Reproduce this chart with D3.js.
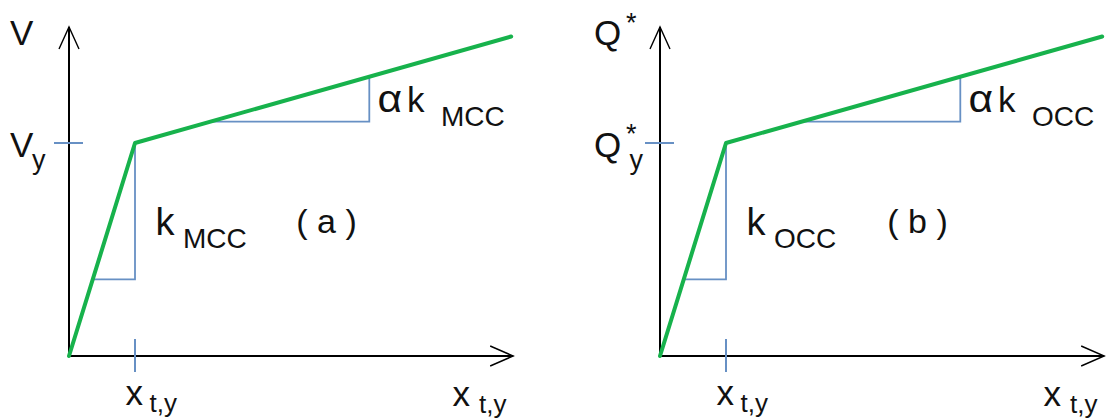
<!DOCTYPE html>
<html>
<head>
<meta charset="utf-8">
<script src="https://cdn.jsdelivr.net/npm/d3@7/dist/d3.min.js"></script>
<style>
  html, body { margin: 0; padding: 0; background: #fff; }
  svg { display: block; }
  text { font-family: "Liberation Sans", Arial, sans-serif; fill: #111; }
</style>
</head>
<body>
<svg id="chart" width="1107" height="419"></svg>
<script>
// Bilinear force–displacement models: (a) MCC, (b) OCC
const panelTags = ["a", "b"];
const forceSymbols = ["V", "Q"];
const forceMarks = ["", "*"];
const stiffnessSubs = ["MCC", "OCC"];
const dispSub = "t,y";
const ratioSymbol = "α";

// Backbone curve (displacement in units of x_t,y, force in units of the yield force)
const curveX = [0, 1, 6.7];
const curveY = [0, 1, 1.5];

// Yield tick positions
const xTickValues = [1];
const yTickValues = [1];

// Slope triangles: initial stiffness and post-yield stiffness
const initialTriX = [0.36, 1, 1];
const initialTriY = [0.36, 0.36, 1];
const hardeningTriX = [2.18, 4.55, 4.55];
const hardeningTriY = [1.10, 1.10, 1.31];

// Axis extents
const xAxisMax = 6.73;
const yAxisMax = 1.545;

const panelOffset = 591;
const green = "#17B24C";
const blue = "#6790C4";

const svg = d3.select("#chart");

const x = d3.scaleLinear().domain([0, 1]).range([69, 135]);
const y = d3.scaleLinear().domain([0, 1]).range([356, 143]);

const line = d3.line()
  .x(d => x(d[0]))
  .y(d => y(d[1]));

function zip(a, b) { return a.map((v, i) => [v, b[i]]); }

function label(g, parts) {
  const t = g.append("text");
  parts.forEach(p => {
    t.append("tspan")
      .attr("x", p.x)
      .attr("y", p.y)
      .attr("font-size", p.size)
      .text(p.text);
  });
  return t;
}

panelTags.forEach((tag, i) => {
  const g = svg.append("g").attr("transform", `translate(${i * panelOffset},0)`);

  // axes with open arrowheads
  const x0 = x(0), y0 = y(0), xEnd = x(xAxisMax), yEnd = y(yAxisMax);
  g.append("line")
    .attr("x1", x0).attr("y1", y0).attr("x2", xEnd).attr("y2", y0)
    .attr("stroke", "#000").attr("stroke-width", 2);
  g.append("line")
    .attr("x1", x0).attr("y1", y0).attr("x2", x0).attr("y2", yEnd)
    .attr("stroke", "#000").attr("stroke-width", 2);
  g.append("path")
    .attr("d", `M${xEnd - 23},${y0 - 10}L${xEnd},${y0}L${xEnd - 23},${y0 + 10}`)
    .attr("fill", "none").attr("stroke", "#000").attr("stroke-width", 1.4);
  g.append("path")
    .attr("d", `M${x0 - 10},${yEnd + 22}L${x0},${yEnd}L${x0 + 10},${yEnd + 22}`)
    .attr("fill", "none").attr("stroke", "#000").attr("stroke-width", 1.4);

  // yield ticks
  g.selectAll(".ytick").data(yTickValues).join("line")
    .attr("x1", x0 - 15).attr("x2", x0 + 14)
    .attr("y1", d => y(d)).attr("y2", d => y(d))
    .attr("stroke", blue).attr("stroke-width", 2);
  g.selectAll(".xtick").data(xTickValues).join("line")
    .attr("x1", d => x(d)).attr("x2", d => x(d))
    .attr("y1", y0 - 17).attr("y2", y0 + 16)
    .attr("stroke", blue).attr("stroke-width", 2);

  // slope triangles
  [[initialTriX, initialTriY], [hardeningTriX, hardeningTriY]].forEach(([tx, ty]) => {
    g.append("path")
      .attr("d", line(zip(tx, ty)))
      .attr("fill", "none").attr("stroke", blue).attr("stroke-width", 1.8);
  });

  // backbone curve
  g.append("path")
    .attr("d", line(zip(curveX, curveY)))
    .attr("fill", "none").attr("stroke", green).attr("stroke-width", 4)
    .attr("stroke-linejoin", "round").attr("stroke-linecap", "round");

  const sym = forceSymbols[i];
  const mark = forceMarks[i];
  const sub = stiffnessSubs[i];
  const sx = sym === "Q" ? 3 : 10;

  // force axis name
  const nameParts = [{ text: sym, x: sx, y: 45, size: 35 }];
  if (mark) nameParts.push({ text: mark, x: 35, y: 32, size: 27 });
  label(g, nameParts);

  // yield force label
  const yieldParts = [{ text: sym, x: sx, y: 157, size: 35 }];
  if (mark) yieldParts.push({ text: mark, x: 35, y: 143, size: 27 });
  yieldParts.push({ text: "y", x: mark ? 38.5 : 32, y: 169, size: 27 });
  label(g, yieldParts);

  // yield displacement label and displacement axis name
  label(g, [
    { text: "x", x: 125.5, y: 405, size: 35 },
    { text: dispSub, x: 149.5, y: 412, size: 26 }
  ]);
  label(g, [
    { text: "x", x: 452.5, y: 406, size: 35 },
    { text: dispSub, x: 479, y: 413, size: 26 }
  ]);

  // initial stiffness
  label(g, [
    { text: "k", x: 155.5, y: 235, size: 38 },
    { text: sub, x: 183, y: 248, size: 28 }
  ]);

  // post-yield stiffness: ratio symbol drawn slightly widened
  g.append("text")
    .attr("transform", "translate(377.5,112) scale(1.12,1)")
    .attr("font-size", 38)
    .text(ratioSymbol);
  label(g, [
    { text: "k", x: 407, y: 112, size: 35 },
    { text: sub, x: 441, y: 126, size: 28 }
  ]);

  // panel tag
  g.append("text")
    .attr("x", 326.5).attr("y", 233)
    .attr("text-anchor", "middle")
    .attr("font-size", 34)
    .attr("xml:space", "preserve")
    .text(`( ${tag} )`);
});
</script>
</body>
</html>
